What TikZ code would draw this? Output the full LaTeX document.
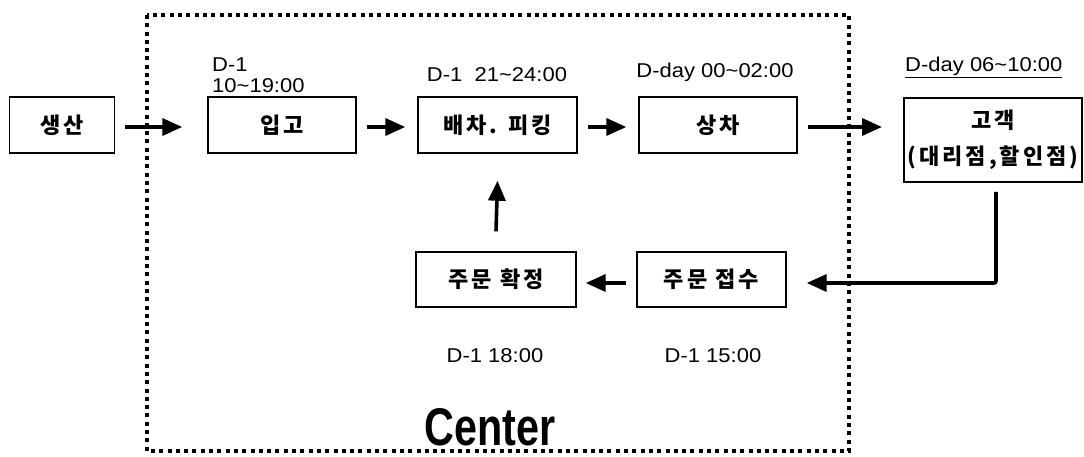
\documentclass[tikz,border=0pt]{standalone}
\usepackage{fontspec}
\setmainfont{Liberation Sans}
\newfontfamily\kr[LetterSpace=14]{Noto Sans CJK KR}
\newfontfamily\lab{Liberation Sans}
\usetikzlibrary{arrows.meta}
\begin{document}
\begin{tikzpicture}[x=1pt,y=-1pt,
  box/.style={draw=black,line width=1.4pt,minimum height=56pt,inner sep=0pt,font=\kr\fontsize{22}{24}\selectfont\bfseries},
  lbl/.style={font=\lab\fontsize{20}{22}\selectfont,inner sep=0pt,xscale=1.1},
  arr/.style={line width=3.6pt,-{Triangle[length=20pt,width=17pt]}},
  frame/.style={line width=4pt,dash pattern=on 4pt off 4.3pt}]
\useasboundingbox (0,0) rectangle (1084,457);
\draw[frame] (147,15) rectangle (849,451);
\node[box,minimum width=105pt] (prod) at (62,125) {생산};
\node[box,minimum width=148pt] (in) at (282,125) {입고};
\node[box,minimum width=159pt] (pick) at (497.5,125) {배차. 피킹};
\node[box,minimum width=158pt] (load) at (718,125) {상차};
\node[box,minimum width=178pt,minimum height=84pt,align=center] (cust) at (993,140) {고객\\[12pt](대리점,할인점)};
\node[box,minimum width=160pt,minimum height=55pt] (conf) at (496,279.5) {주문 확정};
\node[box,minimum width=149pt,minimum height=55pt] (recv) at (711.5,279.5) {주문 접수};
\node[lbl,anchor=south west] (l1a) at (212,72) {D-1};
\node[lbl,anchor=south west] (l1b) at (212,93) {10\textasciitilde19:00};
\node[lbl,anchor=south] (l2) at (497,82) {D-1\ \ 21\textasciitilde24:00};
\node[lbl,anchor=south] (l3) at (715,82) {D-day 00\textasciitilde02:00};
\node[lbl,anchor=south west] (l4) at (905,78) {\underline{D-day 06\textasciitilde10:00}};
\node[lbl] (l5) at (495,356) {D-1 18:00};
\node[lbl] (l6) at (713,356) {D-1 15:00};
\node[font=\bfseries\fontsize{53}{56}\selectfont,xscale=0.78,inner sep=0pt] (center) at (490,427) {Center};
\draw[arr] ([xshift=10pt,yshift=-2pt]prod.east) -- ([xshift=-25pt,yshift=-2pt]in.west);
\draw[arr] ([xshift=10pt,yshift=-2pt]in.east) -- ([xshift=-12pt,yshift=-2pt]pick.west);
\draw[arr] ([xshift=10pt,yshift=-2pt]pick.east) -- ([xshift=-12pt,yshift=-2pt]load.west);
\coordinate (tc) at (882,127);
\draw[arr] ([xshift=10pt,yshift=-2pt]load.east) -- (tc);
\coordinate (c1) at (996,192);
\coordinate (c2) at (996,283);
\draw[arr,rounded corners=2pt] (c1) -- (c2) -- ([xshift=20pt,yshift=-3.5pt]recv.east);
\draw[arr] ([xshift=-10pt,yshift=-3.5pt]recv.west) -- ([xshift=9pt,yshift=-3.5pt]conf.east);
\draw[arr] ([yshift=20pt]conf.north) -- ([yshift=-27pt]pick.south);
\end{tikzpicture}
\end{document}
